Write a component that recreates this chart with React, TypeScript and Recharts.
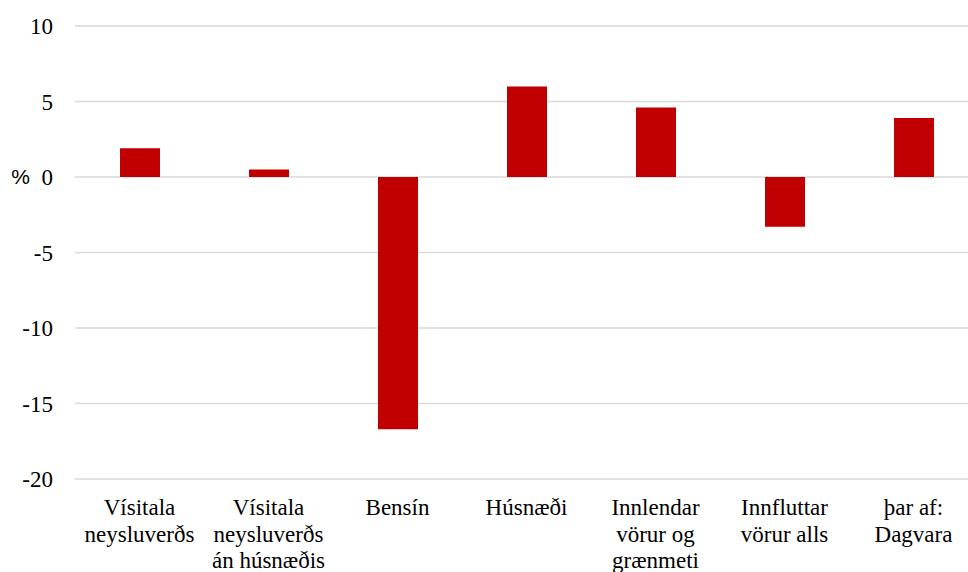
import React from "react";
import { Bar, BarChart, CartesianGrid, XAxis, YAxis } from "recharts";

// Annual change by price index component, %
const categoryLines = [
  ["Vísitala", "neysluverðs"],
  ["Vísitala", "neysluverðs", "án húsnæðis"],
  ["Bensín"],
  ["Húsnæði"],
  ["Innlendar", "vörur og", "grænmeti"],
  ["Innfluttar", "vörur alls"],
  ["þar af:", "Dagvara"],
];
const changes = [1.9, 0.5, -16.7, 6.0, 4.6, -3.3, 3.9];
const yTicks = [-20, -15, -10, -5, 0, 5, 10];

const data = categoryLines.map((lines, i) => ({
  name: lines.join(" "),
  value: changes[i],
}));

const serifStyle = { fontFamily: "'Liberation Serif', 'Times New Roman', Tinos, 'DejaVu Serif', serif", fontSize: 23 };
const sansStyle = { fontFamily: "'Liberation Sans', Arial, sans-serif", fontSize: 21 };
const LINE_HEIGHT = 26.5;

function YTick({ x, y, payload }: any) {
  return (
    <g>
      <text x={x} y={y} dy="0.35em" textAnchor="end" fill="#000" style={serifStyle}>
        {payload.value}
      </text>
      {payload.value === 0 && (
        <text x={x - 23} y={y} dy="0.35em" textAnchor="end" fill="#000" style={sansStyle}>
          %
        </text>
      )}
    </g>
  );
}

function XTick({ x, y, index }: any) {
  const lines = categoryLines[index] ?? [];
  return (
    <text x={x} y={y + 36} textAnchor="middle" fill="#000" style={serifStyle}>
      {lines.map((line, i) => (
        <tspan key={i} x={x} dy={i === 0 ? 0 : LINE_HEIGHT}>
          {line}
        </tspan>
      ))}
    </text>
  );
}

export default function App() {
  return (
    <div
      style={{
        position: "absolute",
        left: 0,
        top: 0,
        width: 968,
        height: 572,
        overflow: "hidden",
        background: "#fff",
      }}
    >
      <BarChart width={978} height={572} data={data} margin={{ top: 26, right: 0, bottom: 0, left: 0 }}>
        <CartesianGrid vertical={false} stroke="#d9d9d9" strokeWidth={1.5} />
        <XAxis
          dataKey="name"
          axisLine={false}
          tickLine={false}
          tickSize={0}
          tickMargin={0}
          height={93}
          interval={0}
          tick={<XTick />}
        />
        <YAxis
          domain={[-20, 10]}
          ticks={yTicks}
          axisLine={false}
          tickLine={false}
          tickSize={0}
          tickMargin={22}
          width={75}
          tick={<YTick />}
        />
        <Bar dataKey="value" fill="#c00000" barSize={40} isAnimationActive={false} />
      </BarChart>
    </div>
  );
}
